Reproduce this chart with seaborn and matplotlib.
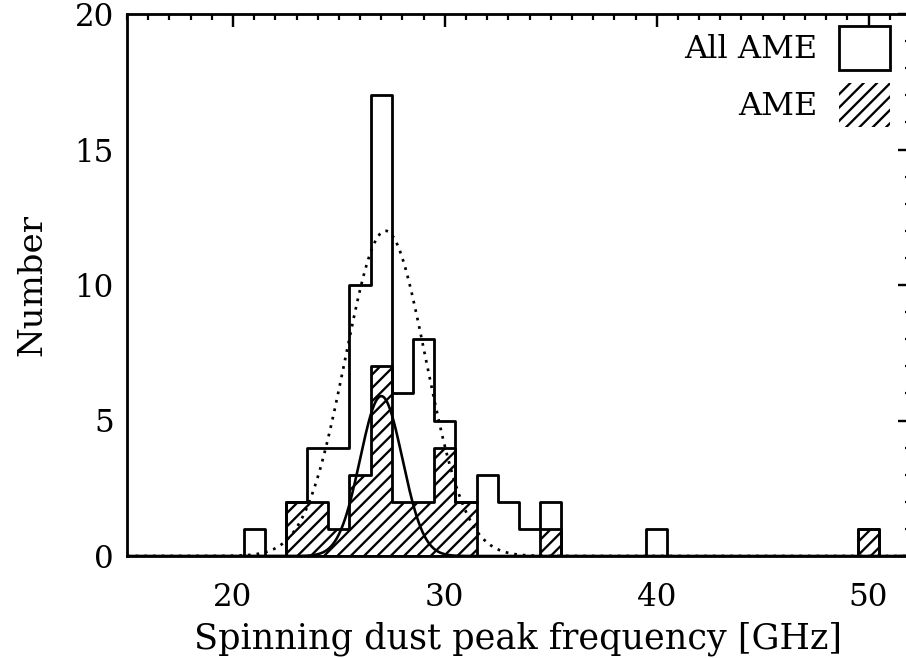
import numpy as np
import pandas as pd
import matplotlib
matplotlib.use('Agg')
import matplotlib.pyplot as plt
import seaborn as sns
from matplotlib.patches import Patch
from matplotlib.ticker import MultipleLocator, FixedLocator

# ---- data ----
bin_centers = [21, 23, 24, 25, 26, 27, 28, 29, 30, 31, 32, 33, 34, 35, 40, 50]
all_ame_counts = [1, 2, 4, 4, 10, 17, 6, 8, 5, 2, 3, 2, 1, 2, 1, 1]
ame_counts = [0, 2, 2, 1, 3, 7, 2, 2, 4, 2, 0, 0, 0, 1, 0, 1]
# Gaussian fits: [amplitude, centre (GHz), sigma (GHz)]
fit_all = [12.0, 27.2, 1.9]
fit_ame = [5.9, 27.0, 1.0]
x_ticks = [20, 30, 40, 50]
y_ticks = [0, 5, 10, 15, 20]
legend_labels = ['All AME', 'AME']
x_label = 'Spinning dust peak frequency [GHz]'
y_label = 'Number'

DPI = 80


def pt(px):
    return px * 72.0 / DPI


sns.set_style('white')
plt.rcParams['font.family'] = ['DejaVu Serif']
plt.rcParams['hatch.linewidth'] = pt(2.3)
plt.rcParams['hatch.color'] = 'black'
plt.rcParams['text.color'] = 'black'
plt.rcParams['axes.labelcolor'] = 'black'
plt.rcParams['xtick.color'] = 'black'
plt.rcParams['ytick.color'] = 'black'
plt.rcParams['xtick.labelcolor'] = 'black'
plt.rcParams['ytick.labelcolor'] = 'black'

fig = plt.figure(figsize=(906 / DPI, 658 / DPI), dpi=DPI)
ax = fig.add_axes([127 / 906, 102 / 658, 784 / 906, 542 / 658])

df = pd.DataFrame({'freq': bin_centers, 'all': all_ame_counts, 'ame': ame_counts})

LW = pt(2.8)
sns.histplot(data=df, x='freq', weights='ame', binwidth=1, binrange=(14.5, 52.5),
             element='step', fill=True, color='black', facecolor='none',
             edgecolor='black', hatch='//', linewidth=LW, ax=ax)
sns.histplot(data=df, x='freq', weights='all', binwidth=1, binrange=(14.5, 52.5),
             element='step', fill=False, color='black', linewidth=LW, ax=ax)

xs = np.linspace(15, 52, 800)
g_all = fit_all[0] * np.exp(-0.5 * ((xs - fit_all[1]) / fit_all[2]) ** 2)
g_ame = fit_ame[0] * np.exp(-0.5 * ((xs - fit_ame[1]) / fit_ame[2]) ** 2)
sns.lineplot(x=xs, y=g_all, color='black', linewidth=pt(2.7),
             linestyle=(0, (1, 2.2)), estimator=None, ax=ax)
sns.lineplot(x=xs, y=g_ame, color='black', linewidth=pt(2.6),
             estimator=None, ax=ax)

ax.set_xlim(15, 52)
ax.set_ylim(0, 20)
ax.xaxis.set_major_locator(FixedLocator(x_ticks))
ax.xaxis.set_minor_locator(MultipleLocator(1))
ax.yaxis.set_major_locator(FixedLocator(y_ticks))
ax.yaxis.set_minor_locator(MultipleLocator(1))
ax.tick_params(which='both', direction='in', top=True, right=True,
               labeltop=False, labelright=False, color='black', labelcolor='black')
ax.tick_params(which='major', length=pt(13), width=pt(2.4))
ax.tick_params(which='minor', length=pt(6), width=pt(2.2))
ax.tick_params(axis='x', which='major', labelsize=pt(31), pad=pt(26))
ax.tick_params(axis='y', which='major', labelsize=pt(31), pad=pt(13))
for s in ax.spines.values():
    s.set_linewidth(pt(2.8))
    s.set_color('black')

ax.set_xlabel(x_label, fontsize=pt(35), color='black')
ax.set_ylabel(y_label, fontsize=pt(34), color='black')
ax.xaxis.set_label_coords(0.5 * (175 + 862) / 784 - 127 / 784, -(622 - 556) / 542)
ax.yaxis.set_label_coords((48 - 127) / 784, 0.5)

handles = [Patch(facecolor='none', edgecolor='black', linewidth=LW),
           Patch(facecolor='none', edgecolor='black', linewidth=0, hatch='//')]
fs = 32
box_h = 44
hh = (box_h / fs - 0.245) / 0.65
ax.legend(handles, legend_labels, loc='upper right',
          bbox_to_anchor=(890 / 906, 1 - 26 / 658), bbox_transform=fig.transFigure,
          frameon=False, markerfirst=False, fontsize=pt(fs), labelcolor='black',
          handlelength=51 / fs, handleheight=hh, handletextpad=22 / fs,
          labelspacing=13 / fs, borderpad=0, borderaxespad=0)

fig.savefig('out.png', dpi=DPI)
